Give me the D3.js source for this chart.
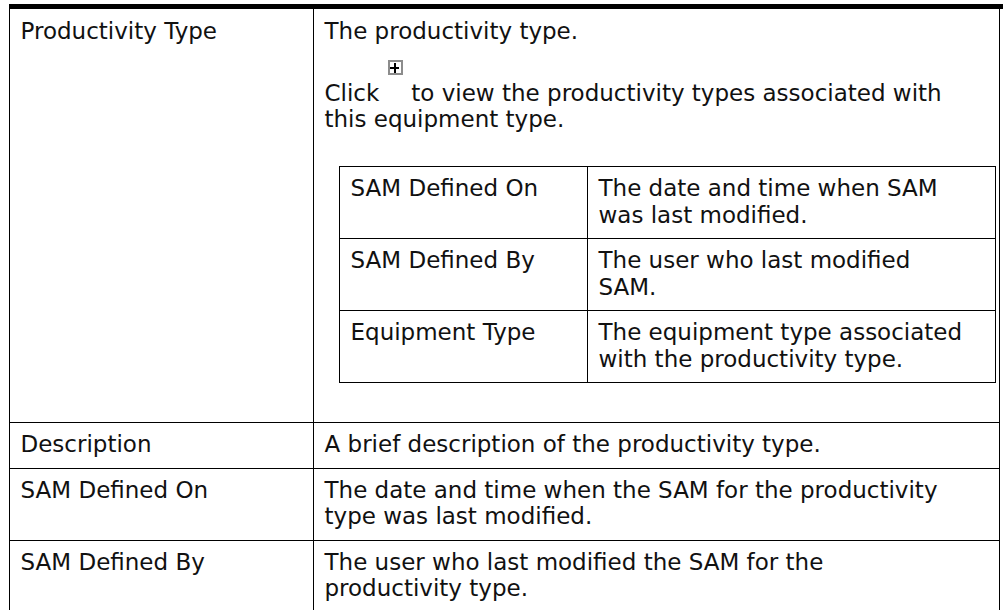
<!DOCTYPE html>
<html><head><meta charset="utf-8">
<script src="https://cdn.jsdelivr.net/npm/d3@7"></script>
<style>html,body{margin:0;padding:0;background:#fff;} svg{display:block}</style>
</head><body>
<svg id="chart" width="1005" height="610"></svg>
<script>
// ---- data ----
const fieldNames = ["Productivity Type", "Description", "SAM Defined On", "SAM Defined By"];
const fieldLines = [
  ["The productivity type."],
  ["A brief description of the productivity type."],
  ["The date and time when the SAM for the productivity", "type was last modified."],
  ["The user who last modified the SAM for the", "productivity type."]
];
const clickWord = "Click";
const clickLines = ["to view the productivity types associated with", "this equipment type."];
const nestedNames = ["SAM Defined On", "SAM Defined By", "Equipment Type"];
const nestedLines = [
  ["The date and time when SAM", "was last modified."],
  ["The user who last modified", "SAM."],
  ["The equipment type associated", "with the productivity type."]
];

// ---- style ----
const FONT = "'DejaVu Sans', Verdana, sans-serif";
const FS = 23, LH = 26.5, PAD = 9.5;
const BASE = 20.5;            // baseline offset inside a line box
const W = 1005, H = 610;
const tableX = [9.5, 313.5, 999.5];
const nestX = [339.5, 587.5, 995.5];
const TOP = 9;
const textPadX = 11;

const svg = d3.select("#chart");

// row heights
const paraGap = 35, nestGapTop = 33, nestGapBottom = 40;
const nestRowH = nestedLines.map(l => 2 * PAD + l.length * LH);
const nestH = d3.sum(nestRowH);
const row1H = PAD + LH + paraGap + LH * clickLines.length + nestGapTop + nestH + nestGapBottom;
const rowH = fieldLines.map((l, i) => i === 0 ? row1H : 2 * PAD + l.length * LH);
const rowTops = [];
rowH.reduce((acc, h) => { rowTops.push(acc); return acc + h; }, TOP);
const y = d3.scaleLinear().domain([0, H]).range([0, H]);

// top thick rule
svg.append("rect").attr("x", 9).attr("y", 4).attr("width", 994).attr("height", 5).attr("fill", "#000");

const lines = svg.append("g").attr("stroke", "#000").attr("stroke-width", 1).attr("shape-rendering", "crispEdges");
tableX.forEach(x => lines.append("line").attr("x1", x).attr("x2", x).attr("y1", TOP).attr("y2", H + 5));
rowTops.slice(1).forEach(t => lines.append("line").attr("x1", tableX[0]).attr("x2", tableX[2]).attr("y1", Math.round(y(t)) + 0.5).attr("y2", Math.round(y(t)) + 0.5));
const lastBottom = rowTops[rowTops.length - 1] + rowH[rowH.length - 1];
lines.append("line").attr("x1", tableX[0]).attr("x2", tableX[2]).attr("y1", Math.round(lastBottom) + 0.5).attr("y2", Math.round(lastBottom) + 0.5);

const text = svg.append("g").attr("font-family", FONT).attr("font-size", FS).attr("fill", "#111");

fieldNames.forEach((name, i) => {
  text.append("text").attr("x", tableX[0] + textPadX).attr("y", y(rowTops[i] + PAD + BASE)).text(name);
  if (i > 0) {
    fieldLines[i].forEach((s, j) => text.append("text")
      .attr("x", tableX[1] + textPadX).attr("y", y(rowTops[i] + PAD + BASE + j * LH)).text(s));
  }
});
// row 1 content
const c2x = tableX[1] + textPadX;
text.append("text").attr("x", c2x).attr("y", rowTops[0] + PAD + BASE).text(fieldLines[0][0]);
const clickTop = rowTops[0] + PAD + LH + paraGap;
const clickText = text.append("text").attr("x", c2x).attr("y", clickTop + BASE).text(clickWord);
const clickW = clickText.node().getComputedTextLength();
const iconS = 14;
const iconX = c2x + clickW + 9, iconY = clickTop + BASE - 40;
const icon = svg.append("g").attr("shape-rendering", "crispEdges");
icon.append("rect").attr("x", iconX + 0.5).attr("y", iconY + 0.5).attr("width", iconS - 1).attr("height", iconS - 1)
  .attr("fill", "#fff").attr("stroke", "#8c8c8c").attr("stroke-width", 1.5);
icon.append("rect").attr("x", iconX + 2).attr("y", iconY + 6).attr("width", 9).attr("height", 2).attr("fill", "#000");
icon.append("rect").attr("x", iconX + 5.5).attr("y", iconY + 2).attr("width", 2).attr("height", 10).attr("fill", "#000");
text.append("text").attr("x", iconX + iconS + 9).attr("y", clickTop + BASE).text(clickLines[0]);
text.append("text").attr("x", c2x).attr("y", clickTop + LH + BASE).text(clickLines[1]);

// nested table
const nestTop = Math.round(clickTop + LH * clickLines.length + nestGapTop);
const nTops = [];
nestRowH.reduce((acc, h) => { nTops.push(acc); return acc + h; }, nestTop);
const nl = svg.append("g").attr("stroke", "#000").attr("stroke-width", 1).attr("shape-rendering", "crispEdges");
nl.append("rect").attr("x", nestX[0]).attr("y", nestTop + 0.5).attr("width", nestX[2] - nestX[0]).attr("height", Math.round(nestH)).attr("fill", "none");
nl.append("line").attr("x1", nestX[1]).attr("x2", nestX[1]).attr("y1", nestTop).attr("y2", nestTop + nestH);
nTops.slice(1).forEach(t => nl.append("line").attr("x1", nestX[0]).attr("x2", nestX[2]).attr("y1", Math.round(t) + 0.5).attr("y2", Math.round(t) + 0.5));
nestedNames.forEach((name, i) => {
  text.append("text").attr("x", nestX[0] + textPadX).attr("y", nTops[i] + PAD + BASE).text(name);
  nestedLines[i].forEach((s, j) => text.append("text")
    .attr("x", nestX[1] + textPadX).attr("y", nTops[i] + PAD + BASE + j * LH).text(s));
});
</script>
</body></html>
